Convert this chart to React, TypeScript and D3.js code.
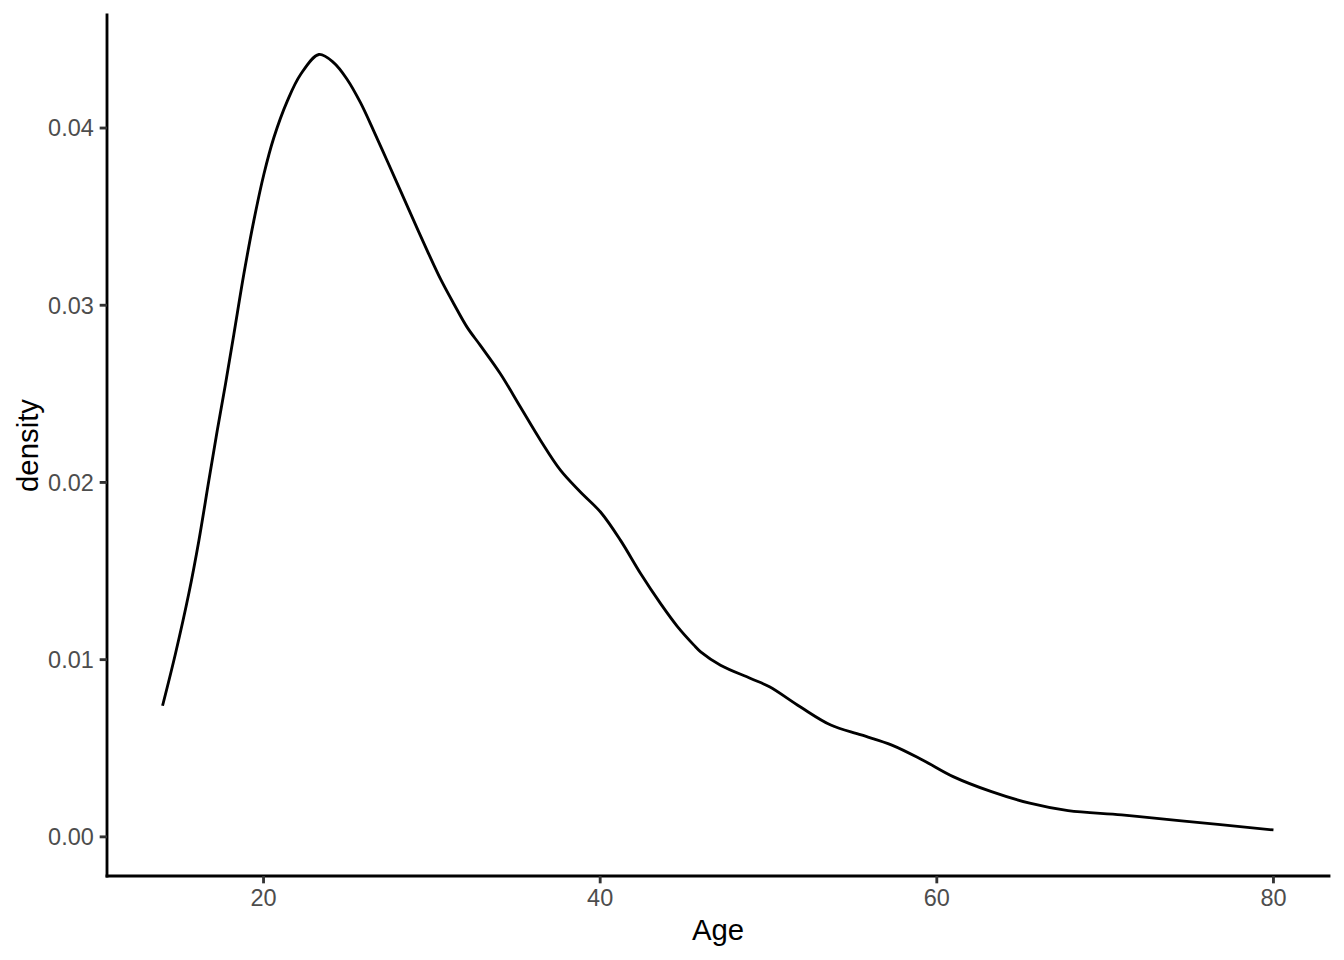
import React from "react";
import * as d3 from "d3";

const ages = [14, 14.77, 15.56, 16.16, 16.75, 17.25, 17.74, 18.24, 18.83, 19.42, 20.02, 20.61, 21.41, 22.2, 23.29, 24.18, 24.97, 25.76, 26.55, 27.35, 28.14, 28.93, 29.73, 30.52, 31.31, 32.1, 32.89, 34.08, 35.27, 36.46, 37.65, 38.84, 40.02, 41.21, 42.4, 43.59, 44.58, 45.57, 45.97, 47.15, 48.94, 50.06, 51.88, 53.7, 55.51, 57.33, 59.15, 60.97, 63.25, 65.52, 67.8, 70.98, 74.39, 80];
const densities = [0.0074, 0.01035, 0.01373, 0.01673, 0.02011, 0.02293, 0.02556, 0.02838, 0.03176, 0.03476, 0.03739, 0.03945, 0.04152, 0.04302, 0.04415, 0.04368, 0.04274, 0.04143, 0.03983, 0.03814, 0.03645, 0.03476, 0.03307, 0.03147, 0.03007, 0.02875, 0.02772, 0.02612, 0.02424, 0.02237, 0.02068, 0.01945, 0.01833, 0.01673, 0.01486, 0.01316, 0.01188, 0.01082, 0.01044, 0.00969, 0.00894, 0.00847, 0.00734, 0.00631, 0.00575, 0.00518, 0.00434, 0.0034, 0.00255, 0.0019, 0.00148, 0.00124, 0.00092, 0.00039];
const xTicks = [20, 40, 60, 80];
const yTicks = [0, 0.01, 0.02, 0.03, 0.04];
const xTitle = "Age";
const yTitle = "density";

const W = 1344;
const H = 960;
const panel = { left: 107, right: 1329, top: 15, bottom: 876 };
const FONT = "'Liberation Sans', Arial, Helvetica, sans-serif";
const tickFont = 23.47;
const titleFont = 29.33;
const lw = 2.85;
const tickLen = 7.33;

export default function App() {
  const xmin = d3.min(ages) as number;
  const xmax = d3.max(ages) as number;
  const xpad = (xmax - xmin) * 0.05;
  const ymax = 0.04417;
  const ypad = ymax * 0.05;
  const x = d3.scaleLinear().domain([xmin - xpad, xmax + xpad]).range([panel.left, panel.right]);
  const y = d3.scaleLinear().domain([-ypad, ymax + ypad]).range([panel.bottom, panel.top]);
  const pts = ages.map((a, i) => [a, densities[i]] as [number, number]);
  const line = d3
    .line<[number, number]>()
    .x((d) => x(d[0]))
    .y((d) => y(d[1]))
    .curve(d3.curveCatmullRom.alpha(0.5));

  return (
    <svg
      width={W}
      height={H}
      style={{ position: "absolute", left: 0, top: 0, background: "#fff" }}
      fontFamily={FONT}
    >
      <rect x={0} y={0} width={W} height={H} fill="#fff" />
      <path d={line(pts) || ""} fill="none" stroke="#000" strokeWidth={lw} strokeLinejoin="round" />
      <line x1={panel.left} x2={panel.right} y1={panel.bottom} y2={panel.bottom} stroke="#000" strokeWidth={lw} strokeLinecap="square" />
      <line x1={panel.left} x2={panel.left} y1={panel.top} y2={panel.bottom} stroke="#000" strokeWidth={lw} strokeLinecap="square" />
      {xTicks.map((t) => (
        <g key={"x" + t}>
          <line x1={x(t)} x2={x(t)} y1={panel.bottom} y2={panel.bottom + tickLen} stroke="#333" strokeWidth={lw} />
          <text x={x(t)} y={panel.bottom + tickLen + 5.87 + 16.8} textAnchor="middle" fontSize={tickFont} fill="#4D4D4D">
            {String(t)}
          </text>
        </g>
      ))}
      {yTicks.map((t) => (
        <g key={"y" + t}>
          <line x1={panel.left - tickLen} x2={panel.left} y1={y(t)} y2={y(t)} stroke="#333" strokeWidth={lw} />
          <text x={panel.left - tickLen - 5.87} y={y(t) + 8.4} textAnchor="end" fontSize={tickFont} fill="#4D4D4D">
            {t.toFixed(2)}
          </text>
        </g>
      ))}
      <text x={(panel.left + panel.right) / 2} y={940} textAnchor="middle" fontSize={titleFont} fill="#000">
        {xTitle}
      </text>
      <text
        transform={`translate(38,${(panel.top + panel.bottom) / 2}) rotate(-90)`}
        textAnchor="middle"
        fontSize={titleFont}
        fill="#000"
      >
        {yTitle}
      </text>
    </svg>
  );
}
